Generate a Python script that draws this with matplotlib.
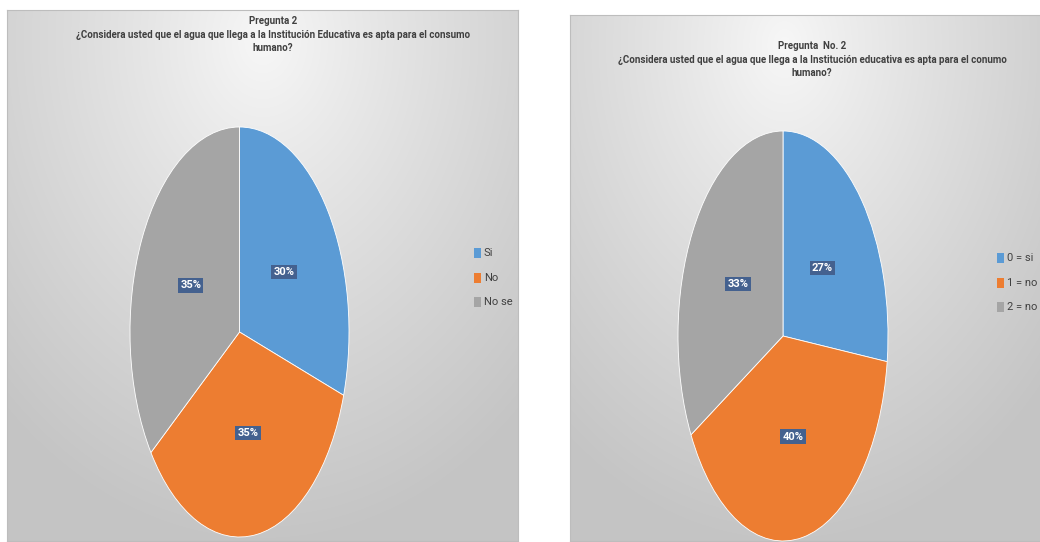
import numpy as np
import matplotlib
matplotlib.use("Agg")
import matplotlib.pyplot as plt
from matplotlib import font_manager

W, H = 1040, 542
fig = plt.figure(figsize=(W/100, H/100), dpi=100)

names = {f.name for f in font_manager.fontManager.ttflist}
fam = ['Liberation Sans Narrow'] if 'Liberation Sans Narrow' in names else ['Roboto', 'DejaVu Sans']

# Data
titles = ["Pregunta 2\n¿Considera usted que el agua que llega a la Institución Educativa es apta para el consumo\nhumano?",
          "Pregunta  No. 2\n¿Considera usted que el agua que llega a la Institución educativa es apta para el conumo\nhumano?"]
labels_left = ["Si", "No", "No se"]
values_left = [30, 35, 35]
labels_right = ["0 = si", "1 = no", "2 = no se"]
values_right = [27, 40, 33]
colors = ["#5B9BD5", "#ED7D31", "#A5A5A5"]

def px(x0, y0, x1, y1):
    return [x0/W, 1 - y1/H, (x1-x0)/W, (y1-y0)/H]

def panel_bg(rect_px, cx_frac):
    ax = fig.add_axes(px(*rect_px))
    w = rect_px[2]-rect_px[0]; h = rect_px[3]-rect_px[1]
    yy, xx = np.mgrid[0:h, 0:w]
    cx = w*cx_frac; cy = 30
    d = np.sqrt(((xx-cx)/ (w*0.75))**2 + ((yy-cy)/(h*0.95))**2)
    d = np.clip(d, 0, 1)
    v = 0.97 - 0.20*d**0.9
    img = np.dstack([v, v, v])
    ax.imshow(img, aspect='auto', extent=[0, 1, 0, 1], interpolation='bilinear')
    ax.set_xlim(0, 1); ax.set_ylim(0, 1)
    ax.set_xticks([]); ax.set_yticks([])
    for s in ax.spines.values():
        s.set_color('#bdbdbd'); s.set_linewidth(0.8)
    ax.set_zorder(0)
    return ax

bgL = panel_bg((7, 10, 518, 541), 0.5)
bgR = panel_bg((570, 15, 1046, 541), 0.45)

fs_title = 9.5 if fam[0] == 'Liberation Sans Narrow' else 7.0
fs_leg = 9.5 if fam[0] == 'Liberation Sans Narrow' else 8.0

def draw_pie(rect_px, values, title, title_xy, legend_labels, leg_x, leg_ys):
    ax = fig.add_axes(px(*rect_px))
    ax.set_zorder(2)
    wedges, _t, autot = ax.pie(values, colors=colors, startangle=90, counterclock=False,
                               autopct=lambda p: f"{p:.0f}%", pctdistance=0.5,
                               wedgeprops=dict(edgecolor='white', linewidth=0.6),
                               textprops=dict(color='white', fontsize=8, fontweight='bold', family=fam))
    for t in autot:
        t.set_bbox(dict(boxstyle='square,pad=0.2', facecolor='#44618F', edgecolor='none'))
    ax.set_aspect('auto')
    ax.set_xlim(-1, 1); ax.set_ylim(-1, 1)
    ax.axis('off')
    fig.text(title_xy[0]/W, 1 - title_xy[1]/H, title, ha='center', va='top',
             fontsize=fs_title, fontweight='bold', family=fam, color='#404040',
             linespacing=1.45, zorder=5)
    for lab, col, y in zip(legend_labels, colors, leg_ys):
        fig.patches.append(plt.Rectangle((leg_x/W, 1 - (y+5)/H), 7/W, 10/H, transform=fig.transFigure,
                                         facecolor=col, edgecolor='none', zorder=5))
        fig.text((leg_x+10)/W, 1 - y/H, lab, ha='left', va='center', fontsize=fs_leg,
                 family=fam, color='#404040', zorder=5)

draw_pie((130, 127, 349, 537), values_left, titles[0], (273, 16), labels_left, 474, [253, 278, 302])
draw_pie((678, 131, 888, 541), values_right, titles[1], (812, 41), labels_right, 997, [258, 283, 307])

fig.savefig("out.png", dpi=100, facecolor='white')
